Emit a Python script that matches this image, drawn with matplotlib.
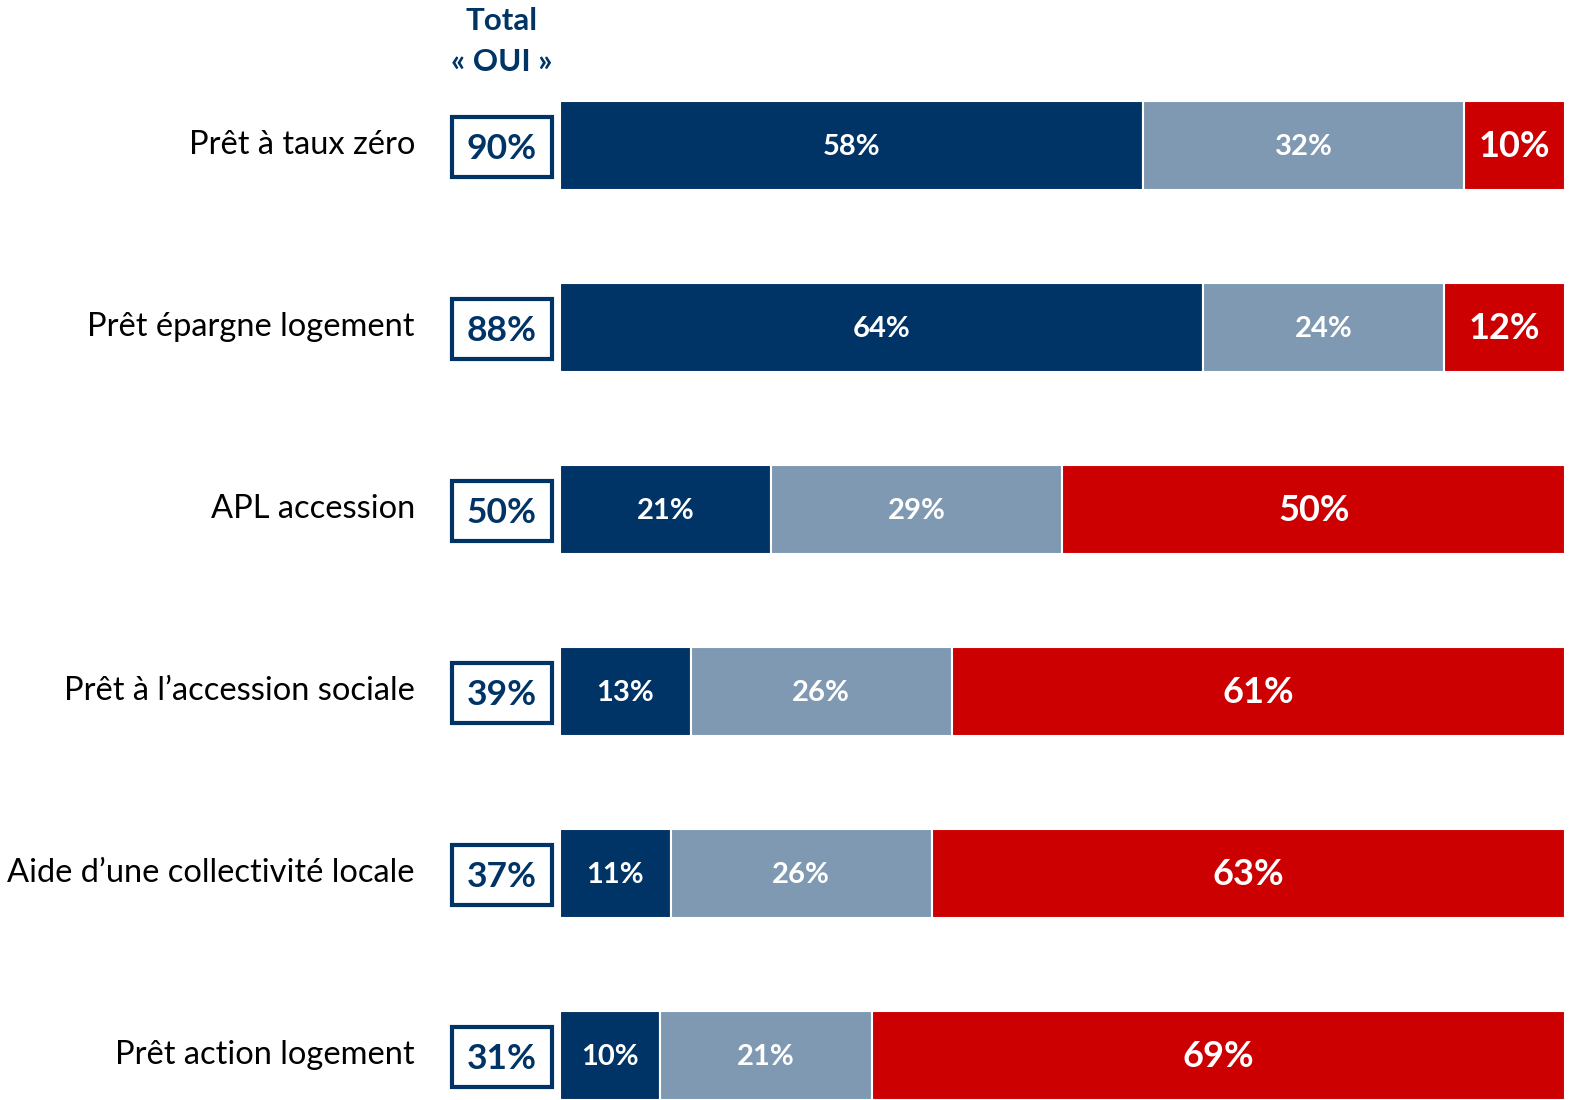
import matplotlib.pyplot as plt
from matplotlib.patches import Rectangle

plt.rcParams['font.family'] = ['Lato', 'DejaVu Sans']

# Données
dispositifs = [
    "Prêt à taux zéro",
    "Prêt épargne logement",
    "APL accession",
    "Prêt à l\u2019accession sociale",
    "Aide d\u2019une collectivité locale",
    "Prêt action logement",
]
oui_beneficie = [58, 64, 21, 13, 11, 10]
oui_connait = [32, 24, 29, 26, 26, 21]
non = [10, 12, 50, 61, 63, 69]
total_oui = [90, 88, 50, 39, 37, 31]

bleu = "#003366"
gris = "#7F99B3"
rouge = "#CC0000"

fig = plt.figure(figsize=(15.71, 11), dpi=100)
ax = fig.add_axes([0, 0, 1, 1])
ax.set_xlim(-55.72, 100.6)
ax.set_ylim(5.247, -0.797)
ax.axis("off")

y = list(range(len(dispositifs)))
h = 0.489
x_label = -14.43
x_box = -5.77

gauche = [0] * len(y)
series = [(oui_beneficie, bleu), (oui_connait, gris), (non, rouge)]
for valeurs, couleur in series:
    ax.barh(y, valeurs, left=gauche, height=h, color=couleur,
            edgecolor="white", linewidth=1.5)
    for i, v in enumerate(valeurs):
        taille = 26 if couleur == rouge else 21
        ax.text(gauche[i] + v / 2, i + 0.01, f"{v}%", ha="center", va="center",
                color="white", fontsize=taille, fontweight="bold")
    gauche = [g + v for g, v in zip(gauche, valeurs)]

for i, nom in enumerate(dispositifs):
    ax.text(x_label, i, nom, ha="right", va="center", fontsize=23.5, color="black")
    ax.add_patch(Rectangle((x_box - 5.0, i + 0.01 - 0.165), 10.0, 0.33,
                           facecolor="white", edgecolor=bleu, linewidth=3,
                           clip_on=False))
    ax.text(x_box, i + 0.02, f"{total_oui[i]}%", ha="center", va="center",
            fontsize=25.5, fontweight="bold", color=bleu)

ax.text(x_box, -0.68, "Total", ha="center", va="center", fontsize=22.5,
        fontweight="bold", color=bleu)
ax.text(x_box, -0.455, "\u00ab OUI \u00bb", ha="center", va="center", fontsize=22.5,
        fontweight="bold", color=bleu)

plt.savefig("out.png", dpi=100)
